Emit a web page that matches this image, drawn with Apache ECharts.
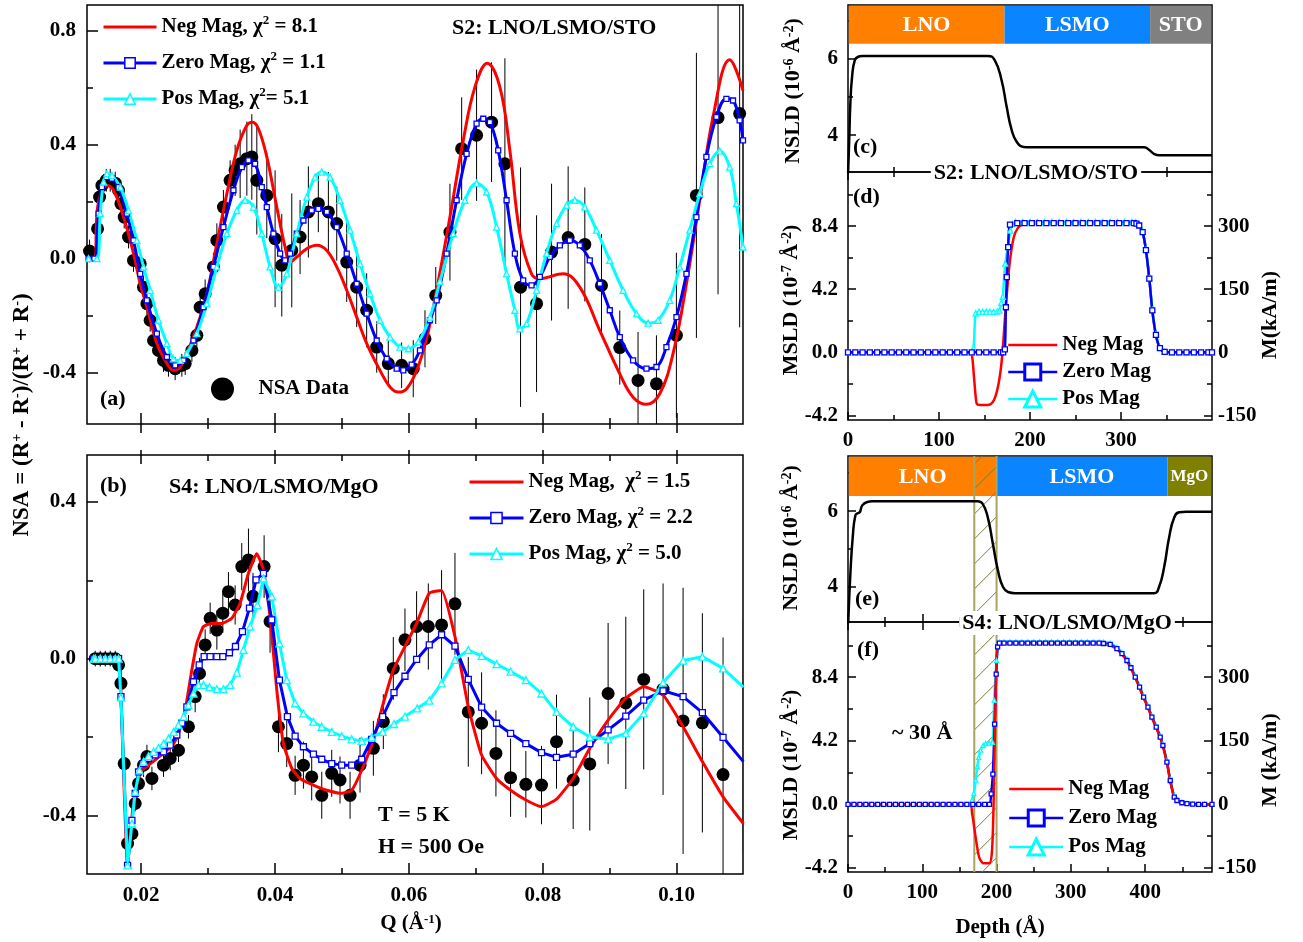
<!DOCTYPE html>
<html>
<head>
<meta charset="utf-8">
<title>NSA and SLD depth profiles</title>
<script src="https://cdn.jsdelivr.net/npm/echarts@6.0.0/dist/echarts.min.js"></script>
<style>
  html, body { margin: 0; padding: 0; background: #fff; }
  #chart { width: 1303px; height: 942px; }
</style>
</head>
<body>
<div id="chart"></div>
<script>
const FONT = 'Liberation Serif';
const RED = '#ff0000', BLUE = '#0000ff', CYAN = '#00ffff';

// ---- (a) S2 NSA data ----
const aQ = [0.01228,0.01348,0.01378,0.01413,0.01478,0.01537,0.01612,0.01661,0.01697,0.01746,0.01810,0.01885,0.01985,0.02035,0.02085,0.02134,0.02184,0.02258,0.02333,0.02407,0.02507,0.02607,0.02657,0.02757,0.02831,0.02881,0.02955,0.03079,0.03130,0.03228,0.03328,0.03403,0.03478,0.03578,0.03652,0.03727,0.03876,0.04000,0.04100,0.04249,0.04373,0.04497,0.04646,0.04796,0.04921,0.05070,0.05219,0.05368,0.05518,0.05691,0.05890,0.06064,0.06239,0.06400,0.06612,0.06787,0.07010,0.07234,0.07433,0.07667,0.07906,0.08130,0.08378,0.08627,0.08876,0.09149,0.09422,0.09697,0.09995,0.10294,0.10617,0.10940];
const aNSA = [0.027,0.105,0.216,0.257,0.275,0.275,0.265,0.24,0.193,0.146,0.076,-0.006,-0.018,-0.10,-0.158,-0.216,-0.287,-0.322,-0.357,-0.374,-0.386,-0.374,-0.368,-0.322,-0.269,-0.17,-0.123,-0.029,0.064,0.181,0.275,0.31,0.333,0.351,0.357,0.275,0.222,0.07,-0.023,0.029,0.076,0.164,0.193,0.164,0.123,-0.012,-0.10,-0.181,-0.31,-0.368,-0.374,-0.386,-0.281,-0.129,0.093,0.386,0.433,0.479,0.333,-0.10,-0.158,0.023,0.074,0.05,-0.094,-0.312,-0.427,-0.439,-0.269,0.222,0.495,0.509];
const aErr = [0.04,0.03,0.03,0.03,0.04,0.04,0.04,0.04,0.04,0.04,0.04,0.04,0.04,0.04,0.04,0.04,0.04,0.04,0.04,0.04,0.04,0.04,0.04,0.04,0.04,0.05,0.05,0.05,0.06,0.06,0.07,0.09,0.12,0.13,0.15,0.19,0.15,0.24,0.18,0.2,0.13,0.16,0.1,0.14,0.13,0.14,0.14,0.13,0.09,0.08,0.08,0.1,0.1,0.1,0.17,0.18,0.23,0.21,0.37,0.42,0.31,0.24,0.25,0.2,0.18,0.13,0.17,0.17,0.29,0.5,0.62,0.75];

const aNegFit = [[0.01213,0],[0.0130,0],[0.01339,0.158],[0.01388,0.222],[0.01488,0.257],[0.01587,0.24],[0.01736,0.146],[0.01885,0.018],[0.01985,-0.088],[0.02085,-0.17],[0.02234,-0.298],[0.02384,-0.368],[0.02482,-0.392],[0.02582,-0.38],[0.02682,-0.333],[0.02831,-0.24],[0.0298,-0.123],[0.0313,0.053],[0.03279,0.228],[0.03428,0.38],[0.03578,0.468],[0.03661,0.479],[0.03751,0.456],[0.03876,0.357],[0.04025,0.181],[0.04149,0.041],[0.04224,-0.012],[0.04324,0.006],[0.04473,0.035],[0.04622,0.047],[0.04772,0.029],[0.04921,-0.029],[0.0507,-0.111],[0.05219,-0.205],[0.05369,-0.298],[0.05567,-0.392],[0.05716,-0.45],[0.0584,-0.468],[0.05966,-0.456],[0.06115,-0.392],[0.06264,-0.28],[0.06413,-0.11],[0.06612,0.146],[0.06811,0.415],[0.06985,0.602],[0.07169,0.686],[0.07358,0.602],[0.07507,0.38],[0.07657,0.088],[0.07831,-0.053],[0.07955,-0.07],[0.08303,-0.053],[0.08552,-0.1],[0.08851,-0.252],[0.09149,-0.404],[0.09348,-0.486],[0.09548,-0.511],[0.09746,-0.474],[0.09945,-0.333],[0.10145,-0.088],[0.10343,0.205],[0.10542,0.497],[0.10791,0.698],[0.1099,0.59]];
const aZeroFit = [[0.01213,0],[0.0130,0],[0.01363,0.158],[0.01413,0.251],[0.01478,0.286],[0.01563,0.281],[0.01661,0.251],[0.01786,0.158],[0.01885,0.064],[0.01985,-0.053],[0.02085,-0.146],[0.02234,-0.263],[0.02384,-0.345],[0.02507,-0.374],[0.02631,-0.357],[0.0278,-0.287],[0.0293,-0.17],[0.03079,-0.029],[0.03228,0.111],[0.03378,0.24],[0.03503,0.321],[0.03602,0.345],[0.03701,0.333],[0.03801,0.251],[0.03876,0.181],[0.03975,0.088],[0.04075,0.018],[0.04149,-0.006],[0.04224,0.018],[0.04324,0.088],[0.04423,0.134],[0.04547,0.169],[0.04646,0.175],[0.04772,0.164],[0.04921,0.111],[0.0507,0.018],[0.05219,-0.088],[0.05369,-0.193],[0.05518,-0.287],[0.05667,-0.351],[0.05816,-0.386],[0.05915,-0.392],[0.0604,-0.372],[0.06164,-0.322],[0.06313,-0.216],[0.06413,-0.146],[0.06563,0.018],[0.06712,0.205],[0.06861,0.368],[0.0701,0.474],[0.0711,0.491],[0.07209,0.479],[0.07333,0.38],[0.07458,0.205],[0.07582,0.018],[0.07706,-0.076],[0.07831,-0.094],[0.07955,-0.064],[0.08104,0.006],[0.08254,0.047],[0.08403,0.064],[0.08552,0.047],[0.08701,-0.006],[0.08851,-0.088],[0.09,-0.181],[0.09149,-0.275],[0.09348,-0.357],[0.09548,-0.386],[0.09697,-0.38],[0.09846,-0.31],[0.09996,-0.205],[0.10145,-0.053],[0.10294,0.146],[0.10443,0.357],[0.10593,0.497],[0.10742,0.561],[0.10841,0.555],[0.1094,0.485],[0.1099,0.415]];
const aPosFit = [[0.01213,0],[0.01339,0],[0.01388,0.158],[0.01438,0.269],[0.01488,0.298],[0.01563,0.292],[0.01687,0.251],[0.0181,0.169],[0.01936,0.064],[0.02035,-0.029],[0.02134,-0.111],[0.02258,-0.216],[0.02384,-0.298],[0.02482,-0.351],[0.02582,-0.357],[0.02682,-0.333],[0.02831,-0.263],[0.0298,-0.158],[0.0313,-0.029],[0.03279,0.088],[0.03428,0.169],[0.03552,0.205],[0.03676,0.181],[0.03801,0.088],[0.03925,-0.029],[0.04049,-0.1],[0.04174,-0.053],[0.04324,0.088],[0.04473,0.216],[0.04597,0.286],[0.04697,0.304],[0.04821,0.286],[0.0497,0.205],[0.0512,0.1],[0.05269,-0.018],[0.05418,-0.123],[0.05567,-0.216],[0.05716,-0.275],[0.05866,-0.31],[0.0599,-0.316],[0.06139,-0.292],[0.06313,-0.205],[0.06463,-0.08],[0.06661,0.088],[0.06836,0.205],[0.0701,0.265],[0.0716,0.234],[0.07309,0.111],[0.07458,-0.053],[0.07582,-0.181],[0.07657,-0.246],[0.07757,-0.228],[0.07906,-0.111],[0.08055,0.018],[0.08204,0.123],[0.08354,0.187],[0.08478,0.205],[0.08627,0.181],[0.08801,0.1],[0.09,-0.006],[0.09199,-0.111],[0.09399,-0.193],[0.09572,-0.226],[0.09721,-0.216],[0.09896,-0.146],[0.10045,-0.029],[0.10194,0.1],[0.10343,0.228],[0.10493,0.333],[0.10642,0.378],[0.10791,0.321],[0.10891,0.193],[0.1099,0.041]];

// ---- (b) S4 NSA data ----
const bQ = [0.01313,0.01388,0.01463,0.01537,0.01612,0.01662,0.01697,0.01746,0.01796,0.01861,0.01910,0.01960,0.02035,0.02085,0.02160,0.02333,0.02433,0.02557,0.02706,0.02806,0.02871,0.02955,0.03030,0.03130,0.03219,0.03303,0.03403,0.03502,0.03602,0.03670,0.03836,0.03925,0.04050,0.04174,0.04299,0.04423,0.04547,0.04697,0.04846,0.04970,0.05120,0.05269,0.05468,0.05617,0.05766,0.05940,0.06114,0.06289,0.06487,0.06687,0.06886,0.07085,0.07299,0.07518,0.07746,0.07980,0.08204,0.08453,0.08701,0.08975,0.09239,0.09507,0.09796,0.10095,0.10383,0.10692,0.10995];
const bNSA = [0,0,0,0,0,-0.016,-0.063,-0.268,-0.472,-0.447,-0.37,-0.319,-0.272,-0.25,-0.306,-0.272,-0.255,-0.234,-0.174,-0.097,-0.038,0.035,0.103,0.073,0.116,0.171,0.137,0.235,0.252,0.159,0.235,0.095,-0.174,-0.217,-0.298,-0.272,-0.302,-0.349,-0.293,-0.31,-0.349,-0.272,-0.229,-0.161,-0.025,0.048,0.082,0.082,0.086,0.14,-0.136,-0.165,-0.242,-0.304,-0.321,-0.323,-0.212,-0.31,-0.269,-0.089,-0.113,-0.053,-0.078,-0.159,-0.164,-0.296,-0.198];
const bErr = [0.02,0.02,0.02,0.02,0.02,0.02,0.02,0.02,0.02,0.02,0.02,0.02,0.03,0.03,0.03,0.03,0.03,0.03,0.03,0.04,0.04,0.04,0.04,0.05,0.05,0.05,0.05,0.06,0.08,0.06,0.08,0.08,0.065,0.06,0.05,0.06,0.06,0.06,0.06,0.06,0.06,0.07,0.07,0.07,0.08,0.08,0.09,0.11,0.14,0.13,0.14,0.13,0.11,0.1,0.085,0.1,0.12,0.125,0.17,0.18,0.22,0.23,0.27,0.34,0.28,0.35,0.3];

const bNegFit = [[0.0129,0],[0.01662,0],[0.01697,-0.097],[0.01796,-0.528],[0.01861,-0.404],[0.01935,-0.319],[0.0201,-0.285],[0.02109,-0.272],[0.02234,-0.255],[0.02358,-0.238],[0.02483,-0.217],[0.02557,-0.191],[0.02657,-0.131],[0.02756,-0.029],[0.02831,0.039],[0.0293,0.082],[0.03055,0.09],[0.03204,0.09],[0.03353,0.103],[0.03478,0.142],[0.03602,0.218],[0.03726,0.268],[0.03826,0.227],[0.03925,0.107],[0.04025,-0.08],[0.04124,-0.217],[0.04249,-0.28],[0.04373,-0.306],[0.04572,-0.323],[0.04771,-0.336],[0.04995,-0.344],[0.05144,-0.336],[0.05294,-0.285],[0.05468,-0.208],[0.05617,-0.114],[0.05766,-0.029],[0.0594,0.031],[0.06114,0.09],[0.06303,0.167],[0.06487,0.174],[0.06687,0.056],[0.06886,-0.123],[0.07085,-0.246],[0.07308,-0.306],[0.07518,-0.336],[0.07746,-0.361],[0.0798,-0.378],[0.08204,-0.359],[0.08453,-0.306],[0.08701,-0.229],[0.08975,-0.157],[0.09239,-0.101],[0.09507,-0.072],[0.09796,-0.093],[0.10095,-0.174],[0.10383,-0.263],[0.10692,-0.353],[0.10995,-0.421]];
const bZeroFit = [[0.0129,0],[0.01313,0],[0.01388,0],[0.01463,0],[0.01537,0],[0.01612,0],[0.01662,0],[0.01697,-0.097],[0.01796,-0.528],[0.01861,-0.413],[0.0191,-0.344],[0.0196,-0.289],[0.02025,-0.268],[0.02109,-0.255],[0.02209,-0.246],[0.02333,-0.238],[0.02433,-0.221],[0.02532,-0.195],[0.02607,-0.165],[0.02682,-0.123],[0.02781,-0.059],[0.02866,-0.016],[0.0294,0.005],[0.0303,0.005],[0.0313,0.005],[0.03219,0.005],[0.03318,0.015],[0.03408,0.031],[0.03512,0.069],[0.03617,0.129],[0.03716,0.201],[0.03826,0.218],[0.0395,0.099],[0.04065,-0.055],[0.04184,-0.148],[0.04299,-0.198],[0.04423,-0.225],[0.04572,-0.244],[0.04697,-0.257],[0.04846,-0.268],[0.04995,-0.272],[0.05144,-0.272],[0.05294,-0.257],[0.05443,-0.206],[0.05607,-0.148],[0.05776,-0.087],[0.0594,-0.045],[0.06114,-0.002],[0.06303,0.035],[0.06487,0.061],[0.06687,0.032],[0.06886,-0.053],[0.07085,-0.124],[0.07308,-0.165],[0.07518,-0.191],[0.07746,-0.217],[0.0798,-0.24],[0.08204,-0.252],[0.08453,-0.244],[0.08701,-0.217],[0.08975,-0.182],[0.09239,-0.147],[0.09507,-0.106],[0.09796,-0.082],[0.10095,-0.097],[0.10383,-0.138],[0.10692,-0.201],[0.10995,-0.263]];
const bPosFit = [[0.0129,0],[0.01313,0],[0.01388,0],[0.01463,0],[0.01537,0],[0.01612,0],[0.01662,0],[0.01697,-0.099],[0.01796,-0.528],[0.01861,-0.421],[0.0191,-0.34],[0.01975,-0.285],[0.02035,-0.263],[0.02109,-0.249],[0.02184,-0.238],[0.02258,-0.228],[0.02333,-0.217],[0.02408,-0.204],[0.02483,-0.187],[0.02557,-0.17],[0.02632,-0.148],[0.02706,-0.119],[0.02781,-0.089],[0.02856,-0.067],[0.0293,-0.067],[0.0302,-0.073],[0.0313,-0.078],[0.03229,-0.078],[0.03328,-0.067],[0.03428,-0.036],[0.03527,0.022],[0.03627,0.082],[0.03736,0.137],[0.03826,0.205],[0.0395,0.159],[0.04065,0.039],[0.04174,-0.055],[0.04299,-0.114],[0.04423,-0.14],[0.04572,-0.161],[0.04697,-0.174],[0.04846,-0.187],[0.04995,-0.198],[0.05144,-0.206],[0.05294,-0.21],[0.05443,-0.201],[0.05607,-0.187],[0.05776,-0.167],[0.0594,-0.148],[0.06124,-0.127],[0.06303,-0.107],[0.06487,-0.063],[0.06687,-0.003],[0.06886,0.022],[0.07085,0.007],[0.07308,-0.014],[0.07518,-0.033],[0.07746,-0.055],[0.0798,-0.089],[0.08204,-0.136],[0.08453,-0.174],[0.08701,-0.2],[0.08975,-0.206],[0.09239,-0.191],[0.09507,-0.14],[0.09796,-0.061],[0.10095,-0.005],[0.10383,0.005],[0.10692,-0.025],[0.10995,-0.073]];

// ---- (c)/(d) S2 depth profiles: [depth, SLD] ----
const cNSLD = [[0,2.9],[1.5,4.0],[2.6,4.84],[4.5,5.54],[7.5,5.97],[11.2,6.06],[15.7,6.08],[153.7,6.08],[161.2,5.97],[168.7,5.45],[174.3,4.75],[179.9,4.13],[185.5,3.82],[193,3.69],[200,3.68],[325.5,3.68],[331,3.61],[336.6,3.5],[342.2,3.47],[400,3.47]];
const dNeg = [[0,0],[134.7,0],[136.5,-0.3],[138.4,-1.6],[141,-3.3],[143,-3.48],[150,-3.5],[155.2,-3.48],[160.8,-3.12],[165.7,-2.0],[169.4,-0.26],[173.1,2.8],[177.6,5.9],[182.1,7.64],[186.9,8.3],[192.5,8.52],[198,8.55],[316,8.55],[320,8.42],[323.8,8.0],[327.4,6.8],[331.1,4.9],[334.4,2.8],[338.4,1.16],[342.8,0.28],[348,0.03],[355,0],[400,0]];
const dZero = [[0,0],[8,0],[16,0],[24,0],[32,0],[40,0],[48,0],[56,0],[64,0],[72,0],[80,0],[88,0],[96,0],[104,0],[112,0],[120,0],[128,0],[136,0],[144,0],[152,0],[160,0],[168,0],[170.5,0],[172.4,0.2],[173.5,3.0],[174.5,5.0],[176,7.0],[178,8.5],[186,8.6],[194,8.6],[202,8.6],[210,8.6],[218,8.6],[226,8.6],[234,8.6],[242,8.6],[250,8.6],[258,8.6],[266,8.6],[274,8.6],[282,8.6],[290,8.6],[298,8.6],[306,8.6],[314,8.6],[317,8.56],[320,8.44],[323.8,8.0],[327.4,6.8],[331.1,4.9],[334.4,2.8],[338.4,1.16],[342.8,0.28],[348,0.03],[356,0],[364,0],[372,0],[380,0],[388,0],[396,0],[400,0]];
const dPos = [[0,0],[8,0],[16,0],[24,0],[32,0],[40,0],[48,0],[56,0],[64,0],[72,0],[80,0],[88,0],[96,0],[104,0],[112,0],[120,0],[128,0],[136,0],[138,0.3],[140.3,2.6],[144,2.7],[148,2.7],[152,2.7],[156,2.7],[160,2.7],[164,2.72],[166.4,2.78],[168.5,3.3],[170.1,3.7],[172.8,5.9],[175.7,7.0],[178.4,8.1],[180.6,8.55],[184,8.68],[192,8.68],[200,8.68],[208,8.68],[216,8.68],[224,8.68],[232,8.68],[240,8.68],[248,8.68],[256,8.68],[264,8.68],[272,8.68],[280,8.68],[288,8.68],[296,8.68],[304,8.68],[312,8.68],[316,8.66],[320,8.48],[323.8,8.04],[327.4,6.84],[331.1,4.94],[334.4,2.84],[338.4,1.2],[342.8,0.3],[348,0.04],[356,0],[364,0],[372,0],[380,0],[388,0],[396,0],[400,0]];

// ---- (e)/(f) S4 depth profiles ----
const eNSLD = [[0,2.9],[3.2,4.35],[6.4,5.32],[10,5.89],[13.7,5.95],[16,5.97],[19.2,6.15],[26,6.24],[32.9,6.26],[174.4,6.26],[181.3,6.19],[188.1,5.84],[195,5.14],[201.8,4.44],[208.7,4.0],[215.5,3.87],[224.7,3.84],[411.9,3.84],[418.7,4.0],[425.6,4.53],[432.4,5.32],[439.3,5.84],[446.1,5.97],[455.3,5.98],[490,5.98]];
const fNeg = [[0,0],[163.9,0],[167.1,-0.6],[171.7,-2.13],[176.3,-3.45],[180,-3.8],[183.1,-3.89],[190,-3.89],[193.6,-3.23],[195.9,-0.15],[198.2,5.78],[200.5,10.17],[203.7,10.6],[338,10.6],[344,10.57],[353,10.5],[362,10.24],[368.8,9.91],[375.5,9.46],[380.9,8.98],[386.7,8.36],[392.5,7.7],[397.9,7.04],[403.8,6.38],[409.1,5.72],[414.9,5.06],[420.3,4.4],[423.9,3.85],[429.3,2.75],[433.8,1.54],[439.2,0.44],[442.8,0.22],[449.5,0.08],[456.3,0.03],[470,0],[490,0]];
const fZero = [[0,0],[8,0],[16,0],[24,0],[32,0],[40,0],[48,0],[56,0],[64,0],[72,0],[80,0],[88,0],[96,0],[104,0],[112,0],[120,0],[128,0],[136,0],[144,0],[152,0],[160,0],[168,0],[176,0],[184,0],[190.4,0],[192.7,0.7],[195,2.0],[197.3,5.3],[199.5,8.6],[201.4,10.4],[203.7,10.65],[210,10.65],[218,10.65],[226,10.65],[234,10.65],[242,10.65],[250,10.65],[258,10.65],[266,10.65],[274,10.65],[282,10.65],[290,10.65],[298,10.65],[306,10.65],[314,10.65],[322,10.65],[330,10.65],[338,10.64],[344,10.62],[353,10.56],[362,10.28],[368.8,9.95],[375.5,9.5],[380.9,9.02],[386.7,8.4],[392.5,7.74],[397.9,7.08],[403.8,6.42],[409.1,5.76],[414.9,5.1],[420.3,4.44],[423.9,3.89],[429.3,2.79],[433.8,1.58],[439.2,0.48],[442.8,0.26],[449.5,0.11],[456.3,0.05],[464,0.02],[472,0],[480,0],[490,0]];
const fPos = [[0,0],[8,0],[16,0],[24,0],[32,0],[40,0],[48,0],[56,0],[64,0],[72,0],[80,0],[88,0],[96,0],[104,0],[112,0],[120,0],[128,0],[136,0],[144,0],[152,0],[160,0],[164.8,0],[167,0.3],[169.4,0.72],[172,1.6],[174,2.48],[176,3.1],[178.5,3.58],[182,3.9],[185.4,4.02],[190,4.05],[194.5,4.1],[196.8,6.87],[200,9.5],[203.7,10.7],[210,10.73],[218,10.73],[226,10.73],[234,10.73],[242,10.73],[250,10.73],[258,10.73],[266,10.73],[274,10.73],[282,10.73],[290,10.73],[298,10.73],[306,10.73],[314,10.73],[322,10.73],[330,10.73],[338,10.72],[344,10.7],[353,10.64],[362,10.36],[368.8,10.03],[375.5,9.58],[380.9,9.1],[386.7,8.48],[392.5,7.82],[397.9,7.16],[403.8,6.5],[409.1,5.84],[414.9,5.18],[420.3,4.52],[423.9,3.97],[429.3,2.87],[433.8,1.66],[439.2,0.56],[442.8,0.34],[449.5,0.15],[456.3,0.08],[464,0.03],[472,0],[480,0],[490,0]];

const s2Layers = ['LNO', 'LSMO', 'STO'];
const s2Edges = [0, 172, 332, 400];
const s4Layers = ['LNO', 'LSMO', 'MgO'];
const s4Edges = [0, 200, 430, 490];
const interfaceBand = [170, 200];
const M_PER_MSLD = 300 / 8.4;

const LAYER_COLORS = { LNO: '#ff8000', LSMO: '#0a84ff', STO: '#808080', MgO: '#808000' };
const LAYER_BAR_BOTTOM = 6.4;
const HATCH_LINE = '#7d7a35', HATCH_EDGE = '#a9a460';

const chart = echarts.init(document.getElementById('chart'));

const grids = [
  { left: 87, top: 5, width: 656, height: 419 },
  { left: 87, top: 455, width: 656, height: 419 },
  { left: 848, top: 5, width: 364, height: 167 },
  { left: 848, top: 172, width: 364, height: 248 },
  { left: 848, top: 456, width: 364, height: 166 },
  { left: 848, top: 622, width: 364, height: 250 },
].map(g => Object.assign({ show: true, borderColor: '#000', borderWidth: 1.5, backgroundColor: 'transparent', containLabel: false, outerBoundsMode: 'none' }, g));

const xAxes = [], yAxes = [];
function axis(list, grid, pos, range, values, opt) {
  opt = opt || {};
  list.push({
    type: 'value', gridIndex: grid, position: pos, min: range[0], max: range[1],
    axisLine: { show: false, onZero: false },
    splitLine: { show: false },
    axisTick: { show: true, inside: !opt.outside, length: opt.len || 9, customValues: values, lineStyle: { color: '#000', width: 1.5 } },
    axisLabel: opt.fmt ? { show: true, customValues: values, formatter: opt.fmt, margin: opt.margin || 8, color: '#000', fontFamily: FONT, fontWeight: 'bold', fontSize: 21 } : { show: false }
  });
  return list.length - 1;
}
const fmt0 = v => String(v), fmt1 = v => v.toFixed(1), fmt2 = v => v.toFixed(2);

const qRange = [0.0119, 0.1099];
const qMajor = [0.02, 0.04, 0.06, 0.08, 0.10], qMinor = [0.03, 0.05, 0.07, 0.09];
const aRange = [-0.58, 0.89], bRange = [-0.55, 0.52];

// (a)
const ax = axis(xAxes, 0, 'bottom', qRange, qMajor, { len: 11 });
axis(xAxes, 0, 'bottom', qRange, qMinor, { len: 6 });
axis(xAxes, 0, 'bottom', qRange, qMajor, { len: 9, outside: true });
axis(xAxes, 0, 'bottom', qRange, qMinor, { len: 5, outside: true });
const ay = axis(yAxes, 0, 'left', aRange, [-0.4, 0, 0.4, 0.8], { len: 11, fmt: fmt1, margin: 11 });
axis(yAxes, 0, 'left', aRange, [-0.2, 0.2, 0.6], { len: 6 });
// (b)
const bx = axis(xAxes, 1, 'bottom', qRange, qMajor, { len: 11, fmt: fmt2, margin: 11 });
axis(xAxes, 1, 'bottom', qRange, qMinor, { len: 6 });
axis(xAxes, 1, 'top', qRange, qMajor, { len: 9 });
axis(xAxes, 1, 'top', qRange, qMinor, { len: 6 });
axis(xAxes, 1, 'top', qRange, qMajor, { len: 5, outside: true });
const by = axis(yAxes, 1, 'left', bRange, [-0.4, 0, 0.4], { len: 11, fmt: fmt1, margin: 11 });
axis(yAxes, 1, 'left', bRange, [-0.2, 0.2], { len: 6 });

// (c)/(d)
const s2Range = [0, 400], s2Major = [0, 100, 200, 300], s2Minor = [50, 150, 250, 350];
const cRange = [3.03, 7.42], dRange = [-4.5, 12.0];
const cx = axis(xAxes, 2, 'bottom', s2Range, s2Major, { len: 8 });
axis(xAxes, 2, 'bottom', s2Range, s2Minor, { len: 5 });
const cy = axis(yAxes, 2, 'left', cRange, [4, 6], { len: 8, fmt: fmt0, margin: 10 });
axis(yAxes, 2, 'left', cRange, [5, 7], { len: 5 });
const dx = axis(xAxes, 3, 'bottom', s2Range, s2Major, { len: 8, fmt: fmt0, margin: 10 });
axis(xAxes, 3, 'bottom', s2Range, s2Minor, { len: 5 });
axis(xAxes, 3, 'top', s2Range, s2Major, { len: 8 });
axis(xAxes, 3, 'top', s2Range, s2Minor, { len: 5 });
const dy = axis(yAxes, 3, 'left', dRange, [-4.2, 0, 4.2, 8.4], { len: 8, fmt: fmt1, margin: 10 });
axis(yAxes, 3, 'left', dRange, [-2.1, 2.1, 6.3, 10.5], { len: 5 });
axis(yAxes, 3, 'right', dRange.map(v => v * M_PER_MSLD), [-150, 0, 150, 300], { len: 8, fmt: fmt0, margin: 6 });
axis(yAxes, 3, 'right', dRange.map(v => v * M_PER_MSLD), [-75, 75, 225, 375], { len: 5 });

// (e)/(f)
const s4Range = [0, 490], s4Major = [0, 100, 200, 300, 400], s4Minor = [50, 150, 250, 350, 450];
const eRange = [3.08, 7.45], fRange = [-4.46, 12.04];
const ex = axis(xAxes, 4, 'bottom', s4Range, s4Major, { len: 8 });
axis(xAxes, 4, 'bottom', s4Range, s4Minor, { len: 5 });
const ey = axis(yAxes, 4, 'left', eRange, [4, 6], { len: 8, fmt: fmt0, margin: 10 });
axis(yAxes, 4, 'left', eRange, [5, 7], { len: 5 });
const fx = axis(xAxes, 5, 'bottom', s4Range, s4Major, { len: 8, fmt: fmt0, margin: 10 });
axis(xAxes, 5, 'bottom', s4Range, s4Minor, { len: 5 });
axis(xAxes, 5, 'top', s4Range, s4Major, { len: 8 });
axis(xAxes, 5, 'top', s4Range, s4Minor, { len: 5 });
const fy = axis(yAxes, 5, 'left', fRange, [-4.2, 0, 4.2, 8.4], { len: 8, fmt: fmt1, margin: 10 });
axis(yAxes, 5, 'left', fRange, [-2.1, 2.1, 6.3, 10.5], { len: 5 });
axis(yAxes, 5, 'right', fRange.map(v => v * M_PER_MSLD), [-150, 0, 150, 300], { len: 8, fmt: fmt0, margin: 6 });
axis(yAxes, 5, 'right', fRange.map(v => v * M_PER_MSLD), [-75, 75, 225, 375], { len: 5 });

// ---- series helpers ----
function fit(name, data, color, symbol, size, xi, yi, smooth, width) {
  return {
    name, type: 'line', data, xAxisIndex: xi, yAxisIndex: yi,
    smooth: smooth || false, symbol: symbol || 'none', symbolSize: size || 0, showSymbol: !!symbol,
    lineStyle: { color, width: width || 3 },
    itemStyle: symbol ? { color: '#fff', borderColor: color, borderWidth: 1.3 } : { color },
    emphasis: { disabled: true }
  };
}
function errBars(q, v, e, xi, yi) {
  return {
    type: 'custom', xAxisIndex: xi, yAxisIndex: yi, clip: true, silent: true,
    data: q.map((x, i) => [x, v[i], e[i]]),
    renderItem(params, api) {
      const lo = api.coord([api.value(0), api.value(1) - api.value(2)]);
      const hi = api.coord([api.value(0), api.value(1) + api.value(2)]);
      return { type: 'line', shape: { x1: lo[0], y1: lo[1], x2: hi[0], y2: hi[1] }, style: { stroke: '#000', lineWidth: 1 } };
    }
  };
}
function points(name, q, v, xi, yi) {
  return { name, type: 'scatter', xAxisIndex: xi, yAxisIndex: yi, data: q.map((x, i) => [x, v[i]]),
    symbol: 'circle', symbolSize: 13, itemStyle: { color: '#000', opacity: 1 }, emphasis: { disabled: true } };
}
function layerBars(names, edges, xi, yi) {
  return {
    type: 'custom', xAxisIndex: xi, yAxisIndex: yi, silent: true, z: 1,
    data: names.map((n, i) => [edges[i], edges[i + 1]]),
    renderItem(params, api) {
      const cs = params.coordSys;
      const a = api.coord([api.value(0), LAYER_BAR_BOTTOM]);
      const b = api.coord([api.value(1), LAYER_BAR_BOTTOM]);
      const x0 = Math.max(a[0], cs.x + 0.75), x1 = Math.min(b[0], cs.x + cs.width - 0.75);
      const name = names[params.dataIndex];
      return { type: 'group', children: [
        { type: 'rect', shape: { x: x0, y: cs.y + 0.75, width: x1 - x0, height: a[1] - cs.y - 0.75 }, style: { fill: LAYER_COLORS[name] } },
        { type: 'text', x: (x0 + x1) / 2, y: (cs.y + a[1]) / 2 + 1, style: { text: name, fill: '#fff', fontFamily: FONT, fontWeight: 'bold', fontSize: name === 'MgO' ? 17 : 22, align: 'center', verticalAlign: 'middle' } }
      ] };
    }
  };
}
function hatch(band, xi, yi, z) {
  return {
    type: 'custom', xAxisIndex: xi, yAxisIndex: yi, silent: true, z,
    data: [band],
    renderItem(params, api) {
      const cs = params.coordSys;
      const x0 = api.coord([api.value(0), 0])[0], x1 = api.coord([api.value(1), 0])[0];
      const top = cs.y, bot = cs.y + cs.height, w = x1 - x0;
      const kids = [];
      for (let y = top + 8; y < bot + w; y += 25) {
        let xa = x0, ya = y, xb = x1, yb = y - w;
        if (ya > bot) { xa = x0 + (ya - bot); ya = bot; }
        if (yb < top) { xb = x1 - (top - yb); yb = top; }
        if (xb > xa) kids.push({ type: 'line', shape: { x1: xa, y1: ya, x2: xb, y2: yb }, style: { stroke: HATCH_LINE, lineWidth: 1 } });
      }
      kids.push({ type: 'line', shape: { x1: x0, y1: top, x2: x0, y2: bot }, style: { stroke: HATCH_EDGE, lineWidth: 2 } });
      kids.push({ type: 'line', shape: { x1: x1, y1: top, x2: x1, y2: bot }, style: { stroke: HATCH_EDGE, lineWidth: 2 } });
      return { type: 'group', children: kids };
    }
  };
}

const series = [
  // (a)
  errBars(aQ, aNSA, aErr, ax, ay),
  points('aData', aQ, aNSA, ax, ay),
  fit('aNeg', aNegFit, RED, null, 0, ax, ay, 0.4),
  fit('aZero', aZeroFit, BLUE, 'rect', 5, ax, ay, 0.4),
  fit('aPos', aPosFit, CYAN, 'triangle', 6, ax, ay, 0.4),
  // (b)
  errBars(bQ, bNSA, bErr, bx, by),
  points('bData', bQ, bNSA, bx, by),
  fit('bNeg', bNegFit, RED, null, 0, bx, by, 0.15),
  fit('bZero', bZeroFit, BLUE, 'rect', 6, bx, by),
  fit('bPos', bPosFit, CYAN, 'triangle', 7, bx, by),
  // (c)
  layerBars(s2Layers, s2Edges, cx, cy),
  Object.assign(fit('nsldS2', cNSLD, '#000', null, 0, cx, cy, 0.5, 2.5), { z: 3 }),
  // (d)
  fit('Neg Mag', dNeg, RED, null, 0, dx, dy, 0.3, 2.5),
  fit('Pos Mag', dPos, CYAN, 'triangle', 5, dx, dy, 0.3, 2.5),
  fit('Zero Mag', dZero, BLUE, 'rect', 5, dx, dy, 0.3, 2.5),
  // (e)
  layerBars(s4Layers, s4Edges, ex, ey),
  hatch(interfaceBand, ex, ey, 2),
  Object.assign(fit('nsldS4', eNSLD, '#000', null, 0, ex, ey, 0.5, 2.5), { z: 3 }),
  // (f)
  hatch(interfaceBand, fx, fy, 1),
  fit('Pos Mag', fPos, CYAN, 'triangle', 4, fx, fy, 0.3, 2.5),
  fit('Zero Mag', fZero, BLUE, 'rect', 4, fx, fy, 0.3, 2.5),
  fit('Neg Mag', fNeg, RED, null, 0, fx, fy, 0.3, 2.5),
];

// ---- legends ----
const legendLabels = {
  aNeg: 'Neg Mag, χ{s|2} = 8.1', aZero: 'Zero Mag, χ{s|2} = 1.1', aPos: 'Pos Mag, χ{s|2}= 5.1',
  bNeg: 'Neg Mag,  χ{s|2} = 1.5', bZero: 'Zero Mag, χ{s|2} = 2.2', bPos: 'Pos Mag, χ{s|2} = 5.0',
  aData: 'NSA Data'
};
const supRich = { s: { fontFamily: FONT, fontWeight: 'bold', fontSize: 13, verticalAlign: 'top', lineHeight: 14 } };
function legendBox(names, left, top, w, h, gap, lineH, extra) {
  return Object.assign({
    data: names, orient: 'vertical', left, top, itemWidth: w, itemHeight: h, itemGap: gap, padding: 0,
    selectedMode: false, formatter: n => legendLabels[n] || n,
    textStyle: { fontFamily: FONT, fontWeight: 'bold', fontSize: 21, color: '#000', lineHeight: lineH, rich: supRich },
    lineStyle: { width: 'inherit' }, itemStyle: { borderWidth: 1.5 }
  }, extra || {});
}
const noDot = n => ({ name: n, itemStyle: { opacity: 0 } });
const legends = [
  legendBox([noDot('aNeg'), 'aZero', 'aPos'], 102, 14, 53, 13, 10, 26),
  legendBox(['aData'], 211, 377, 62, 23, 0, 24),
  legendBox([noDot('bNeg'), 'bZero', 'bPos'], 468, 469, 54, 14, 10, 26),
  legendBox([noDot('Neg Mag'), 'Zero Mag', 'Pos Mag'], 1007, 333, 49, 20, 3, 24, { itemStyle: { borderWidth: 3 } }),
  legendBox([noDot('Neg Mag'), 'Zero Mag', 'Pos Mag'], 1008, 777, 54, 20, 5, 24, { itemStyle: { borderWidth: 3 } }),
];

// ---- text annotations ----
function txt(x, y, text, size, extra) {
  return { type: 'text', x, y, z: 100, style: Object.assign({
    text, fontFamily: FONT, fontWeight: 'bold', fontSize: size, fill: '#000', align: 'left', verticalAlign: 'middle',
    rich: { s: { fontFamily: FONT, fontWeight: 'bold', fontSize: Math.round(size * 0.62), verticalAlign: 'top' } }
  }, extra || {}) };
}
function vtxt(x, y, text, size) {
  const t = txt(x, y, text, size, { align: 'center' });
  t.rotation = Math.PI / 2;
  return t;
}
const boxed = { align: 'center', backgroundColor: '#fff', padding: [1, 3] };
const texts = [
  txt(100, 399, '(a)', 22),
  txt(452, 28, 'S2: LNO/LSMO/STO', 22),
  txt(100, 486, '(b)', 22),
  txt(169, 487, 'S4: LNO/LSMO/MgO', 22),
  txt(378, 815, 'T = 5 K', 22),
  txt(378, 847, 'H = 500 Oe', 22),
  vtxt(22, 415, 'NSA = (R{s|+} - R{s|-})/(R{s|+} + R{s|-})', 23),
  txt(411, 924, 'Q (Å{s|-1})', 21, { align: 'center' }),
  txt(853, 147, '(c)', 22),
  txt(853, 197, '(d)', 22),
  txt(855, 599, '(e)', 22),
  txt(857, 650, '(f)', 22),
  txt(1036, 173, 'S2: LNO/LSMO/STO', 22, boxed),
  txt(1067, 623, 'S4: LNO/LSMO/MgO', 22, boxed),
  txt(892, 733, '~ 30 Å', 22),
  vtxt(793, 91, 'NSLD (10{s|-6} Å{s|-2})', 22),
  vtxt(791, 300, 'MSLD (10{s|-7} Å{s|-2})', 22),
  vtxt(1270, 315, 'M(kA/m)', 22),
  vtxt(791, 538, 'NSLD (10{s|-6} Å{s|-2})', 22),
  vtxt(791, 765, 'MSLD (10{s|-7} Å{s|-2})', 22),
  vtxt(1270, 760, 'M (kA/m)', 22),
  txt(1000, 928, 'Depth (Å)', 21, { align: 'center' }),
];

chart.setOption({
  animation: false,
  textStyle: { fontFamily: FONT },
  grid: grids,
  xAxis: xAxes,
  yAxis: yAxes,
  legend: legends,
  series,
  graphic: texts
});
</script>
</body>
</html>
